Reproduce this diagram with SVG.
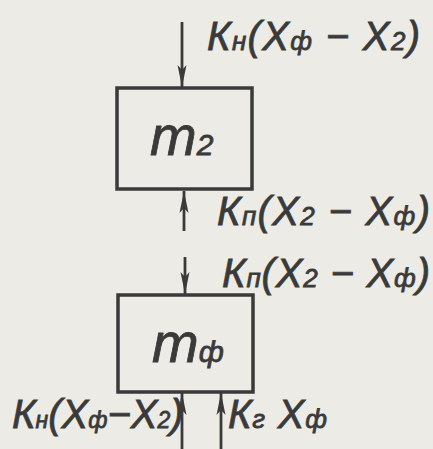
<svg xmlns="http://www.w3.org/2000/svg" width="433" height="449" viewBox="0 0 433 449">
<defs>
<marker id="ah" viewBox="0 0 22 10" refX="22" refY="5" markerWidth="22" markerHeight="10" markerUnits="userSpaceOnUse" orient="auto">
<path d="M0,0.5 L22,5 L0,9.5 L5,5 Z" fill="#3a3a3a"/>
</marker>
</defs>
<style>
.box{fill:none;stroke:#3a3a3a;stroke-width:3.5}
.arr{stroke:#3a3a3a;stroke-width:2.8;fill:none;marker-end:url(#ah)}
.lbl{font-family:"Liberation Sans","DejaVu Sans",sans-serif;font-style:italic;fill:#3a3a3a;stroke:#3a3a3a;stroke-width:0.8;font-size:40px}
.s{font-size:26px}
.m{font-family:"Liberation Sans","DejaVu Sans",sans-serif;font-style:italic;fill:#3a3a3a;stroke:#3a3a3a;stroke-width:0.8;font-size:56px}
</style>
<rect width="433" height="449" fill="#ecebe5"/>
<g id="connectors">
<line class="arr" x1="182" y1="22" x2="182" y2="87"/>
<line class="arr" x1="184" y1="231" x2="184" y2="191"/>
<line class="arr" x1="185" y1="257" x2="185" y2="294"/>
<line class="arr" x1="182" y1="449" x2="182" y2="393"/>
<line class="arr" x1="221" y1="449" x2="221" y2="393"/>
</g>
<g id="m2">
<rect class="box" x="117" y="88" width="135" height="101"/>
<text class="m" x="150" y="155">m<tspan font-size="30">2</tspan></text>
</g>
<g id="mf">
<rect class="box" x="118" y="295" width="135" height="97"/>
<text class="m" x="152" y="362">m<tspan font-size="30">ф</tspan></text>
</g>
<g id="labels">
<text class="lbl" x="207" y="50" textLength="213">К<tspan class="s">н</tspan>(X<tspan class="s">ф</tspan> − X<tspan class="s">2</tspan>)</text>
<text class="lbl" x="217" y="225" textLength="213">К<tspan class="s">п</tspan>(X<tspan class="s">2</tspan> − X<tspan class="s">ф</tspan>)</text>
<text class="lbl" x="222" y="287" textLength="208">К<tspan class="s">п</tspan>(X<tspan class="s">2</tspan> − X<tspan class="s">ф</tspan>)</text>
<text class="lbl" x="12" y="428" font-size="34">К<tspan font-size="23">н</tspan>(X<tspan font-size="23">ф</tspan>−X<tspan font-size="23">2</tspan>)</text>
<text class="lbl" x="228" y="428" textLength="99">К<tspan class="s">г</tspan> X<tspan class="s">ф</tspan></text>
</g>
</svg>
